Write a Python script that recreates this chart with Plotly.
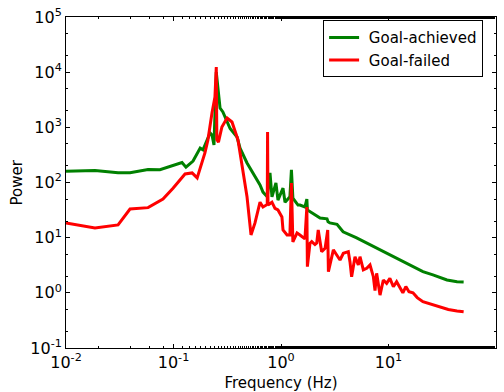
import plotly.graph_objects as go

# Goal-achieved (green) spectrum
ach_freq = [0.01, 0.0186, 0.0305, 0.0394, 0.058, 0.0748, 0.12, 0.1306, 0.152, 0.177, 0.188,
            0.219, 0.228, 0.238, 0.25, 0.259, 0.271, 0.288, 0.336, 0.39, 0.416, 0.483,
            0.638, 0.68, 0.745, 0.79, 0.824, 0.897, 0.937, 1.044, 1.09, 1.21, 1.25, 1.29,
            1.44, 1.50, 1.67, 1.74, 1.76, 2.31, 2.68, 2.74, 2.85, 3.32, 3.5, 3.78, 5.0,
            6.31, 8.34, 10.3, 12.8, 16.9, 20.9, 25.9, 35.0, 43.4, 50.0]
ach_power = [160, 165, 150, 150, 172, 170, 230, 190, 245, 420, 390,
             790, 726, 479, 10000, 5160, 2240, 1900, 950, 668, 420, 226,
             90, 67, 55, 149, 55, 98, 48, 79, 44, 55, 169, 52,
             39, 39, 36, 50, 31.8, 22.7, 22, 19.5, 18.5, 17.5, 15.5, 12.8, 10.0,
             7.9, 6.0, 4.85, 3.94, 2.94, 2.42, 2.11, 1.71, 1.59, 1.57]

# Goal-failed (red) spectrum
fail_freq = [0.01, 0.0186, 0.0305, 0.0394, 0.058, 0.0798, 0.099, 0.128, 0.149, 0.166, 0.196,
             0.209, 0.228, 0.243, 0.25, 0.253, 0.262, 0.282, 0.315, 0.35, 0.398, 0.483,
             0.526, 0.573, 0.638, 0.68, 0.745, 0.75, 0.757, 0.824, 0.879, 0.937, 1.02,
             1.044, 1.138, 1.21, 1.25, 1.29, 1.41, 1.50, 1.67, 1.74, 1.76, 1.86, 1.93,
             2.07, 2.15, 2.22, 2.39, 2.57, 2.72, 2.76, 3.07, 3.30, 3.54, 3.80, 4.23, 4.38,
             4.54, 4.88, 5.24, 5.43, 5.83, 6.27, 6.73, 7.23, 7.49, 7.76, 8.34, 8.95, 9.61,
             10.3, 11.1, 11.9, 12.8, 13.6, 14.5, 15.5, 16.9, 18.5, 20.9, 25.0, 30.1, 36.0,
             43.4, 50.0]
fail_power = [18.5, 15, 17, 33, 35, 50, 79, 143, 149, 121, 343,
              590, 1820, 3550, 12400, 600, 540, 1014, 1476, 1250, 590, 55,
              11.2, 18.5, 44, 36, 40, 824, 39, 44, 34, 31.8, 23.7,
              13.8, 11.2, 11.2, 98, 8.35, 12.2, 11.2, 9.5, 36, 2.98, 7.9, 8.5,
              7.5, 8.0, 13.8, 5.57, 6.4, 13.8, 2.42, 6.0, 4.85, 3.94, 5.2, 5.57, 3.67,
              1.96, 4.52, 3.2, 4.52, 2.6, 2.78, 3.2, 1.96, 1.1, 2.26, 0.91, 1.71, 1.49,
              1.83, 1.29, 1.59, 1.21, 1.0, 1.3, 1.05, 1.0, 0.82, 0.69, 0.62, 0.56, 0.5,
              0.47, 0.455]

x_range_log = [-2, 2]
y_range_log = [-1, 5]
x_tick_vals = [0.01, 0.1, 1, 10, 100]
x_tick_text = ["10<sup>-2</sup>", "10<sup>-1</sup>", "10<sup>0</sup>", "10<sup>1</sup>", "10<sup>2</sup>"]
y_tick_vals = [0.1, 1, 10, 100, 1000, 10000, 100000]
y_tick_text = ["10<sup>-1</sup>", "10<sup>0</sup>", "10<sup>1</sup>", "10<sup>2</sup>",
               "10<sup>3</sup>", "10<sup>4</sup>", "10<sup>5</sup>"]

fig = go.Figure()
fig.add_trace(go.Scatter(x=ach_freq, y=ach_power, mode="lines", name="\u00a0Goal-achieved",
                         line=dict(color="#008000", width=3)))
fig.add_trace(go.Scatter(x=fail_freq, y=fail_power, mode="lines", name="\u00a0Goal-failed",
                         line=dict(color="#ff0000", width=3)))

axis_common = dict(
    type="log", showgrid=False, zeroline=False, automargin=False,
    showline=True, linecolor="black", linewidth=1, mirror="allticks",
    ticks="inside", ticklen=4, tickcolor="black",
    tickfont=dict(family="DejaVu Sans", size=16, color="black"),
    minor=dict(ticks="inside", ticklen=2, tickcolor="black", showgrid=False),
)

fig.update_xaxes(range=x_range_log, tickmode="array", tickvals=x_tick_vals, ticktext=x_tick_text,
                 title=dict(text="Frequency (Hz)",
                            font=dict(family="DejaVu Sans", size=15, color="black")),
                 **axis_common)
fig.update_yaxes(range=y_range_log, tickmode="array", tickvals=y_tick_vals, ticktext=y_tick_text,
                 **axis_common)

fig.add_annotation(text="Power", xref="paper", yref="paper", x=-0.114, y=0.5,
                   xanchor="center", yanchor="middle", textangle=-90, showarrow=False,
                   font=dict(family="DejaVu Sans", size=15, color="black"))

fig.update_layout(
    width=504, height=392,
    margin=dict(l=66, r=8, t=17, b=44),
    plot_bgcolor="white", paper_bgcolor="white",
    font=dict(family="DejaVu Sans", size=15, color="black"),
    legend=dict(x=0.97, y=0.99, xanchor="right", yanchor="top",
                bgcolor="white", bordercolor="black", borderwidth=1,
                font=dict(family="DejaVu Sans", size=15, color="black"),
                itemwidth=30, tracegroupgap=0),
    showlegend=True,
)

fig.write_html("out.html", config={"displayModeBar": False},
               post_script="document.body.style.margin='0';document.body.style.overflow='hidden';")
